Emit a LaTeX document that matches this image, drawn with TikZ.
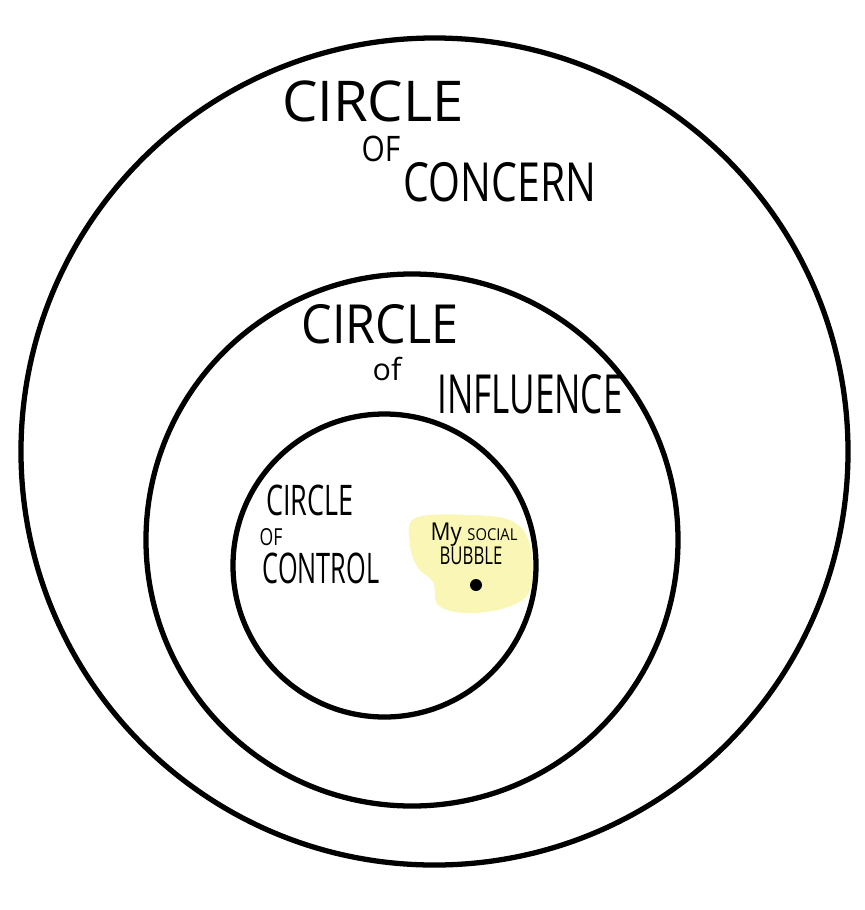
\documentclass[tikz,border=0pt]{standalone}
\usepackage{fontspec}
\setmainfont{Open Sans}
\definecolor{bubble}{RGB}{250,246,182}
% size, squeeze, text
\newcommand{\hand}[3]{\scalebox{#2}[1]{\fontsize{#1}{#1}\selectfont #3}}

\begin{document}
\begin{tikzpicture}[x=0.03cm, y=-0.03cm,
    ring/.style={draw, circle, line width=4.5pt, inner sep=0pt, outer sep=0pt},
    txt/.style={inner sep=0pt}]
        \useasboundingbox (0,0) rectangle (865,910);
        % highlight behind the bubble text
        \fill[bubble] plot[smooth cycle, tension=0.6] coordinates {
            (415,518) (470,515) (512,521) (530,545) (530,590)
            (505,608) (465,613) (438,605) (433,582) (418,568) (410,545)};
        % the three circles
        \node[ring, minimum size=24.81cm] (concern) at (434.5,451.5) {};
        \node[ring, minimum size=15.96cm] (influence) at (412,540) {};
        \node[ring, minimum size=9.09cm] (control) at (384.5,565.5) {};
        % labels
        \node[txt] (concern1) at (373,101) {\hand{48}{1.0}{CIRCLE}};
        \node[txt] (concern2) at (381,149) {\hand{30}{0.85}{OF}};
        \node[txt] (concern3) at (500,182) {\hand{46}{0.76}{CONCERN}};
        \node[txt] (influence1) at (380,324) {\hand{46}{0.9}{CIRCLE}};
        \node[txt] (influence2) at (387,369) {\hand{26}{1.0}{of}};
        \node[txt] (influence3) at (530,394) {\hand{46}{0.65}{INFLUENCE}};
        \node[txt] (control1) at (310,500) {\hand{36}{0.64}{CIRCLE}};
        \node[txt] (control2) at (271,537) {\hand{20}{0.75}{OF}};
        \node[txt] (control3) at (321,568) {\hand{36}{0.6}{CONTROL}};
        \node[txt] (bubble1) at (474,535) {\scalebox{0.9}[1]{\fontsize{21}{21}\selectfont My {\fontsize{14}{14}\selectfont SOCIAL}}};
        \node[txt] (bubble2) at (471,556) {\hand{21}{0.68}{BUBBLE}};
        \node[circle, fill, inner sep=0pt, minimum size=0.36cm] (me) at (476,585) {};
\end{tikzpicture}
\end{document}
